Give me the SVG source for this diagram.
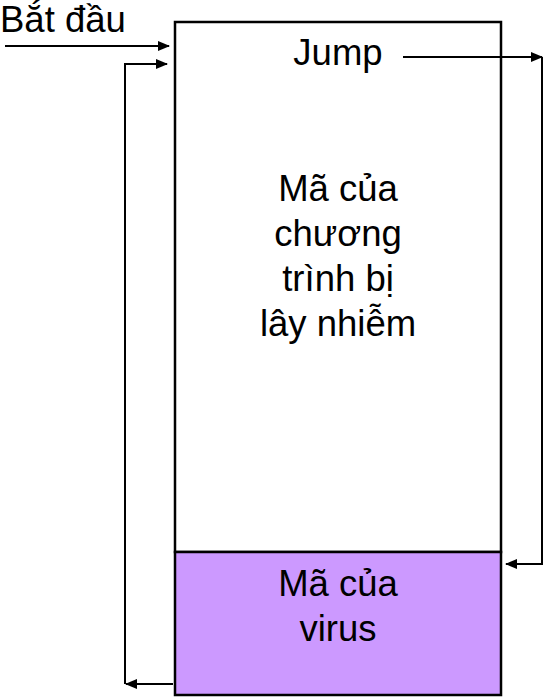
<svg xmlns="http://www.w3.org/2000/svg" width="544" height="697" viewBox="0 0 544 697">
<defs>
<style>
text{font-family:"Liberation Sans",Arial,sans-serif;font-size:36.5px;fill:#000}
.c{text-anchor:middle}
.ln{fill:none;stroke:#000;stroke-width:2}
</style>
<marker id="ah" markerWidth="12" markerHeight="10" refX="11" refY="5" orient="auto" markerUnits="userSpaceOnUse">
<path d="M0,0 L12,5 L0,10 Z" fill="#000"/>
</marker>
</defs>
<rect width="544" height="697" fill="#fff"/>
<g id="program">
<rect x="175" y="22" width="326" height="530" fill="#fff" stroke="#000" stroke-width="2.5"/>
<text class="c" x="338" y="65">Jump</text>
<text class="c" x="338" y="201">Mã của</text>
<text class="c" x="338" y="246">chương</text>
<text class="c" x="338" y="291">trình bị</text>
<text class="c" x="338" y="336">lây nhiễm</text>
</g>
<g id="virus">
<rect x="175" y="552" width="326" height="143" fill="#CC99FF" stroke="#000" stroke-width="2.5"/>
<text class="c" x="338" y="596">Mã của</text>
<text class="c" x="338" y="641">virus</text>
</g>
<g id="start">
<text x="0" y="32">Bắt đầu</text>
</g>
<g id="connectors">
<path class="ln" d="M5,46 H169" marker-end="url(#ah)"/>
<path class="ln" d="M173,684 H126" marker-end="url(#ah)"/>
<path class="ln" d="M125,684 V64 H167" marker-end="url(#ah)"/>
<path class="ln" d="M403,57 H541"/>
<path class="ln" d="M541,57 H542" marker-end="url(#ah)"/>
<path class="ln" d="M542,57 V564 H506" marker-end="url(#ah)"/>
</g>
</svg>
